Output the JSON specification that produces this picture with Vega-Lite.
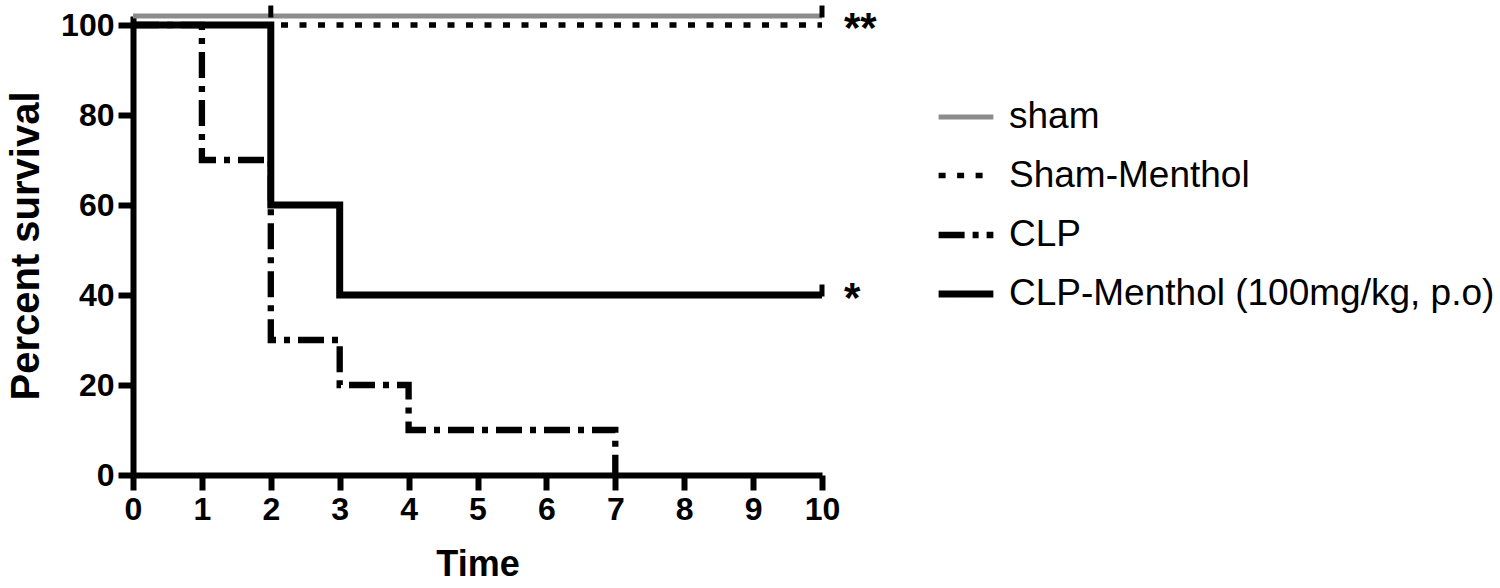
{
  "$schema": "https://vega.github.io/schema/vega-lite/v6.json",
  "width": 689,
  "height": 459,
  "autosize": {"type": "none"},
  "padding": {"left": 133, "top": 16, "right": 678, "bottom": 113},
  "background": "white",
  "config": {
    "view": {"stroke": null},
    "font": "Liberation Sans",
    "axis": {
      "grid": false,
      "domainColor": "black",
      "domainWidth": 6,
      "tickColor": "black",
      "tickWidth": 6,
      "tickSize": 15,
      "labelColor": "black",
      "labelFont": "Liberation Sans",
      "labelFontWeight": "bold",
      "labelFontSize": 32,
      "titleColor": "black",
      "titleFont": "Liberation Sans",
      "titleFontWeight": "bold",
      "titleFontSize": 36
    }
  },
  "datasets": {
    "curves": [
      {"group": "sham", "time": 0, "survival": 102},
      {"group": "sham", "time": 10, "survival": 102},
      {"group": "Sham-Menthol", "time": 0, "survival": 100},
      {"group": "Sham-Menthol", "time": 10, "survival": 100},
      {"group": "CLP", "time": 0, "survival": 100},
      {"group": "CLP", "time": 1, "survival": 70},
      {"group": "CLP", "time": 2, "survival": 30},
      {"group": "CLP", "time": 3, "survival": 20},
      {"group": "CLP", "time": 4, "survival": 10},
      {"group": "CLP", "time": 7, "survival": 0},
      {"group": "CLP-Menthol (100mg/kg, p.o)", "time": 0, "survival": 100},
      {"group": "CLP-Menthol (100mg/kg, p.o)", "time": 2, "survival": 60},
      {"group": "CLP-Menthol (100mg/kg, p.o)", "time": 3, "survival": 40},
      {"group": "CLP-Menthol (100mg/kg, p.o)", "time": 10, "survival": 40}
    ],
    "censors": [
      {"time": 2, "survival": 103},
      {"time": 10, "survival": 103},
      {"time": 10, "survival": 41}
    ],
    "stars": [
      {"label": "**", "time": 10, "survival": 100},
      {"label": "*", "time": 10, "survival": 40}
    ]
  },
  "layer": [
    {
      "data": {"name": "curves"},
      "mark": {"type": "line", "interpolate": "step-after", "strokeCap": "butt", "clip": false},
      "encoding": {
        "x": {
          "field": "time", "type": "quantitative",
          "scale": {"domain": [0, 10], "nice": false, "zero": false},
          "axis": {"values": [0,1,2,3,4,5,6,7,8,9,10], "format": "d", "title": "Time", "labelPadding": 4, "titlePadding": 22, "labelFlush": false}
        },
        "y": {
          "field": "survival", "type": "quantitative",
          "scale": {"domain": [0, 102], "nice": false},
          "axis": {"values": [0,20,40,60,80,100], "format": "d", "title": "Percent survival", "titleFontSize": 40, "labelPadding": 4, "titlePadding": 14}
        },
        "color": {
          "field": "group", "type": "nominal",
          "scale": {"domain": ["sham", "Sham-Menthol", "CLP", "CLP-Menthol (100mg/kg, p.o)"], "range": ["#8c8c8c", "black", "black", "black"]},
          "legend": {
            "orient": "none", "legendX": 802, "legendY": 71, "title": null,
            "symbolType": "stroke", "symbolSize": 3000,
            "labelFont": "Liberation Sans", "labelFontSize": 37, "labelColor": "black",
            "labelOffset": 12, "labelLimit": 700, "rowPadding": 10
          }
        },
        "strokeDash": {
          "field": "group", "type": "nominal",
          "scale": {"domain": ["sham", "Sham-Menthol", "CLP", "CLP-Menthol (100mg/kg, p.o)"], "range": [[1, 0], [7, 11.5], [26, 8, 6, 8], [1, 0]]},
          "legend": {
            "orient": "none", "legendX": 802, "legendY": 71, "title": null,
            "symbolType": "stroke", "symbolSize": 3000,
            "labelFont": "Liberation Sans", "labelFontSize": 37, "labelColor": "black",
            "labelOffset": 12, "labelLimit": 700, "rowPadding": 10
          }
        },
        "strokeWidth": {
          "field": "group", "type": "nominal",
          "scale": {"domain": ["sham", "Sham-Menthol", "CLP", "CLP-Menthol (100mg/kg, p.o)"], "range": [5, 7, 6, 8]},
          "legend": {
            "orient": "none", "legendX": 802, "legendY": 71, "title": null,
            "symbolType": "stroke", "symbolSize": 3000,
            "labelFont": "Liberation Sans", "labelFontSize": 37, "labelColor": "black",
            "labelOffset": 12, "labelLimit": 700, "rowPadding": 10
          }
        }
      }
    },
    {
      "data": {"name": "censors"},
      "mark": {"type": "tick", "orient": "vertical", "color": "black", "thickness": 5, "size": 12, "opacity": 1, "clip": false},
      "encoding": {
        "x": {"field": "time", "type": "quantitative"},
        "y": {"field": "survival", "type": "quantitative"}
      }
    },
    {
      "data": {"name": "stars"},
      "mark": {"type": "text", "align": "left", "baseline": "middle", "dx": 22, "dy": 4, "fontSize": 42, "fontWeight": "bold", "font": "Liberation Sans", "color": "black", "clip": false},
      "encoding": {
        "x": {"field": "time", "type": "quantitative"},
        "y": {"field": "survival", "type": "quantitative"},
        "text": {"field": "label"}
      }
    }
  ]
}
